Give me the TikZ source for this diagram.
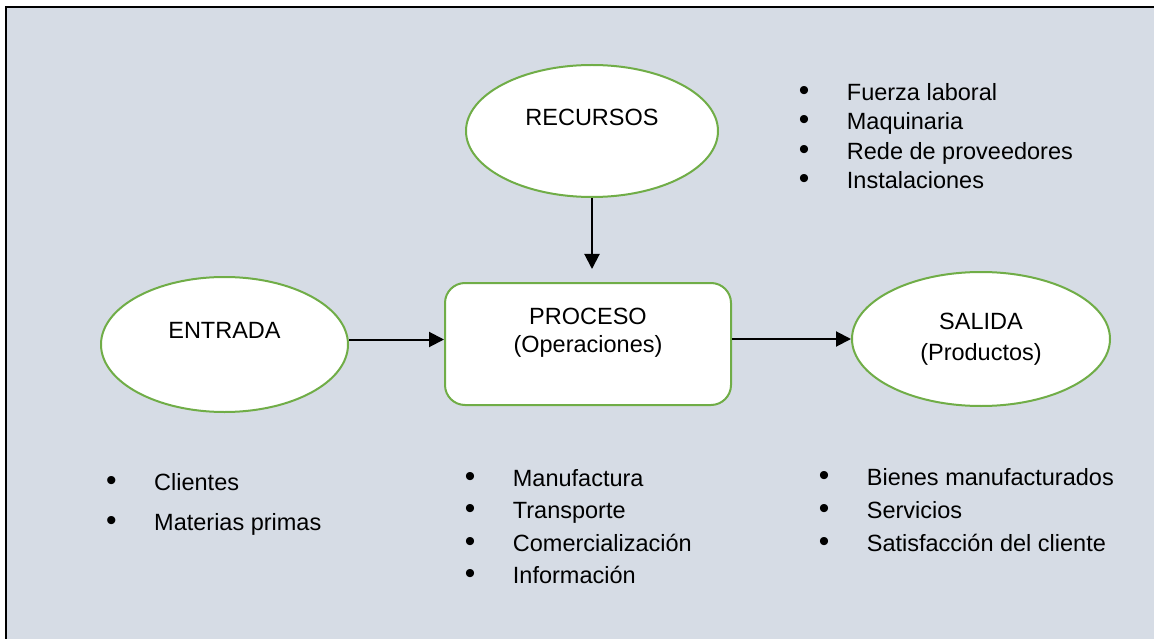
\documentclass[tikz,border=0pt]{standalone}
\usepackage{fontspec}
\setmainfont{Liberation Sans}
\usetikzlibrary{shapes.geometric, arrows.meta}
\definecolor{Backdrop}{RGB}{214, 220, 229}
\definecolor{Border}{RGB}{112, 173, 71}
\newcommand{\itm}[1]{\makebox[48pt][l]{{\fontsize{30}{30}\selectfont\textbullet}}#1}

\begin{document}
\begin{tikzpicture}[
        x=1pt, y=-1pt,
        every node/.style={font=\fontsize{23.5}{27.5}\selectfont, align=center},
        blob/.style={ellipse, draw=Border, line width=2pt, fill=white, inner sep=0pt},
        stage/.style={rectangle, rounded corners=20pt, draw=Border, line width=2pt, fill=white, inner sep=0pt},
        item/.style={anchor=base west, inner sep=0pt, align=left},
        link/.style={-{Triangle[length=15pt, width=15pt]}, line width=2pt}
    ]
        \useasboundingbox (0, 0) rectangle (1154, 639);

        % Frame
        \fill[Backdrop] (6, 7) rectangle (1154, 639);
        \draw[line width=2pt] (6, 639) -- (6, 7) -- (1154, 7);

        % Resources
        \node[blob, minimum width=252pt, minimum height=132pt] (recursos) at (592, 131) {RECURSOS\\ };

        % Input
        \node[blob, minimum width=247pt, minimum height=135pt] (entrada) at (224.5, 344.5) {ENTRADA\\ };

        % Process
        \node[stage, minimum width=286pt, minimum height=122pt] (proceso) at (588, 344) {PROCESO\\(Operaciones)\\ };

        % Output
        \node[blob, minimum width=258pt, minimum height=134pt] (salida) at (981, 339) {SALIDA\\[4pt](Productos)};

        % Arrows
        \draw[link] (recursos.south) -- ([yshift=13pt]recursos.south |- proceso.north);
        \draw[link] ([yshift=5pt]entrada.east) -- ([yshift=5pt]entrada.east -| proceso.west);
        \draw[link] (proceso.east |- salida.west) -- (salida.west);

        % Resources list
        \node[item] (res1) at (798.7, 100.7) {\itm{Fuerza laboral}};
        \node[item] (res2) at (798.7, 129.9) {\itm{Maquinaria}};
        \node[item] (res3) at (798.7, 159.1) {\itm{Rede de proveedores}};
        \node[item] (res4) at (798.7, 188.3) {\itm{Instalaciones}};

        % Input list
        \node[item] (ent1) at (106, 490.7) {\itm{Clientes}};
        \node[item] (ent2) at (106, 530) {\itm{Materias primas}};

        % Process list
        \node[item] (pro1) at (464.7, 486.7) {\itm{Manufactura}};
        \node[item] (pro2) at (464.7, 518.9) {\itm{Transporte}};
        \node[item] (pro3) at (464.7, 551.1) {\itm{Comercialización}};
        \node[item] (pro4) at (464.7, 583.3) {\itm{Información}};

        % Output list
        \node[item] (sal1) at (818.7, 485) {\itm{Bienes manufacturados}};
        \node[item] (sal2) at (818.7, 518.3) {\itm{Servicios}};
        \node[item] (sal3) at (818.7, 551.7) {\itm{Satisfacción del cliente}};
    \end{tikzpicture}
\end{document}
